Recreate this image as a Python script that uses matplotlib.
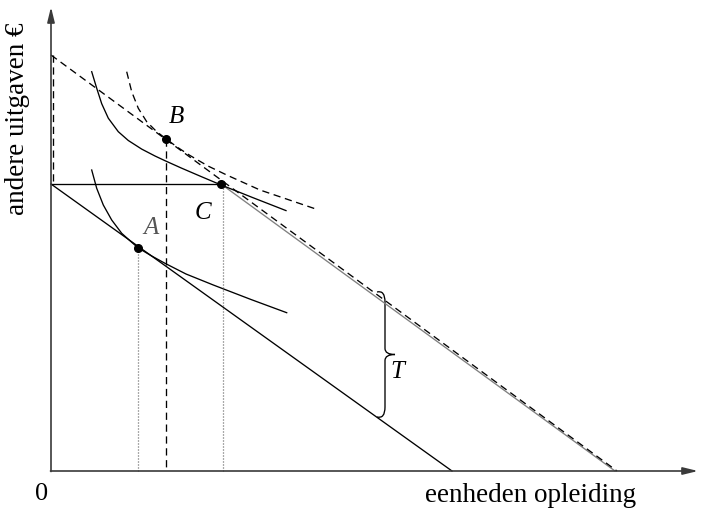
import matplotlib
matplotlib.use("Agg")
import matplotlib.pyplot as plt
from matplotlib.path import Path
from matplotlib.patches import PathPatch

plt.rcParams["font.family"] = ["Liberation Serif", "DejaVu Serif"]

# budget lines (x, y) in diagram units
budget_low_x = [0, 401]
budget_low_y = [287, 0]
kink_x = [0, 170]
kink_y = [287, 287]
budget_high_x = [170, 564]
budget_high_y = [287, 0]
budget_dash_x = [0, 566]
budget_dash_y = [416, 0]

# indifference curves
ic_upper_x = [40.7, 45.7, 50.7, 57.3, 67.3, 77.3, 90.7, 104, 114, 130, 150, 169.7, 202, 235]
ic_upper_y = [399.3, 382.8, 367.3, 352.8, 339.3, 330.5, 321.9, 315.0, 310.3, 303.1, 294.5, 286.2, 273.3, 260.4]
ic_dash_x = [75.7, 80.7, 87.3, 95.7, 105.7, 114, 126, 139, 157, 175.7, 209, 265.7]
ic_dash_y = [399.3, 379.3, 362.7, 349.3, 339.3, 333, 324, 315.5, 305, 296, 281, 261.7]
ic_lower_x = [40.7, 45.7, 52.3, 60.7, 70.7, 80.7, 87.3, 100.7, 114, 135, 162.3, 200, 235.7]
ic_lower_y = [301, 282.7, 266, 251, 237.7, 228.7, 223, 215, 207.7, 197, 186, 171.5, 158.3]

# points
pt_A = (87.3, 223.5)
pt_B = (114.5, 332)
pt_C = (170, 287)

fig = plt.figure(figsize=(7.01, 5.11), dpi=100)
ax = fig.add_axes([0, 0, 1, 1])
ax.set_xlim(-51, 650)
ax.set_ylim(-40, 471)
ax.axis("off")

axis_col = "#3a3a3a"
lw = 0.95

# axes with arrows
ax.annotate("", xy=(0, 464), xytext=(0, -0.5),
            arrowprops=dict(arrowstyle="-|>,head_length=0.9,head_width=0.22",
                            color=axis_col, lw=1.2, shrinkA=0, shrinkB=0))
ax.annotate("", xy=(647, 0), xytext=(-0.5, 0),
            arrowprops=dict(arrowstyle="-|>,head_length=0.9,head_width=0.22",
                            color=axis_col, lw=1.2, shrinkA=0, shrinkB=0))

dash = (0, (5.5, 3.5))
dot = (0, (0.8, 1.6))

# budget lines
ax.plot(budget_low_x, budget_low_y, color="black", lw=lw)
ax.plot(kink_x, kink_y, color="black", lw=lw)
ax.plot(budget_high_x, budget_high_y, color="#808080", lw=lw)
ax.plot(budget_dash_x, budget_dash_y, color="black", lw=lw, linestyle=dash)
ax.plot([1.5, 1.5], [budget_dash_y[0], kink_y[0]], color="black", lw=lw, linestyle=dash)

# indifference curves
ax.plot(ic_upper_x, ic_upper_y, color="black", lw=lw)
ax.plot(ic_dash_x, ic_dash_y, color="black", lw=lw, linestyle=dash)
ax.plot(ic_lower_x, ic_lower_y, color="black", lw=lw)

# guide lines to x-axis
ax.plot([pt_A[0], pt_A[0]], [pt_A[1], 0], color="#555555", lw=0.9, linestyle=dot)
ax.plot([pt_B[0], pt_B[0]], [pt_B[1], 0], color="black", lw=lw, linestyle=dash)
ax.plot([172, 172], [pt_C[1] - 4, 0], color="#555555", lw=0.9, linestyle=dot)

# points
for p in (pt_A, pt_B, pt_C):
    ax.plot(p[0], p[1], "o", color="black", ms=5.5, zorder=5)

# brace T
bx, top, bot, tip = 334, 179, 54, 344
mid = (top + bot) / 2
verts = [(326, top), (334, top + 2), (bx, top - 10),
         (bx, mid + 6), (bx, mid), (tip, mid),
         (bx, mid), (bx, mid - 6), (bx, bot + 10),
         (bx, bot - 2), (326, bot)]
codes = [Path.MOVETO, Path.CURVE3, Path.CURVE3,
         Path.LINETO, Path.CURVE3, Path.CURVE3,
         Path.CURVE3, Path.CURVE3, Path.LINETO,
         Path.CURVE3, Path.CURVE3]
ax.add_patch(PathPatch(Path(verts, codes), fill=False, color="black", lw=lw))

fs = 18
ax.text(pt_B[0] + 11, pt_B[1] + 22, "B", style="italic", fontsize=fs, ha="center", va="center")
ax.text(152, 258, "C", style="italic", fontsize=fs, ha="center", va="center")
ax.text(100, 243, "A", style="italic", fontsize=fs, ha="center", va="center", color="#555555")
ax.text(346, 99, "T", style="italic", fontsize=fs, ha="center", va="center")
ax.text(-9, -23, "0", fontsize=19, ha="center", va="center")
ax.text(480, -24, "eenheden opleiding", fontsize=19.5, ha="center", va="center")
ax.text(-33, 352, "andere uitgaven €", fontsize=19.5, ha="center", va="center", rotation=90)

fig.savefig("out.png", dpi=100)
